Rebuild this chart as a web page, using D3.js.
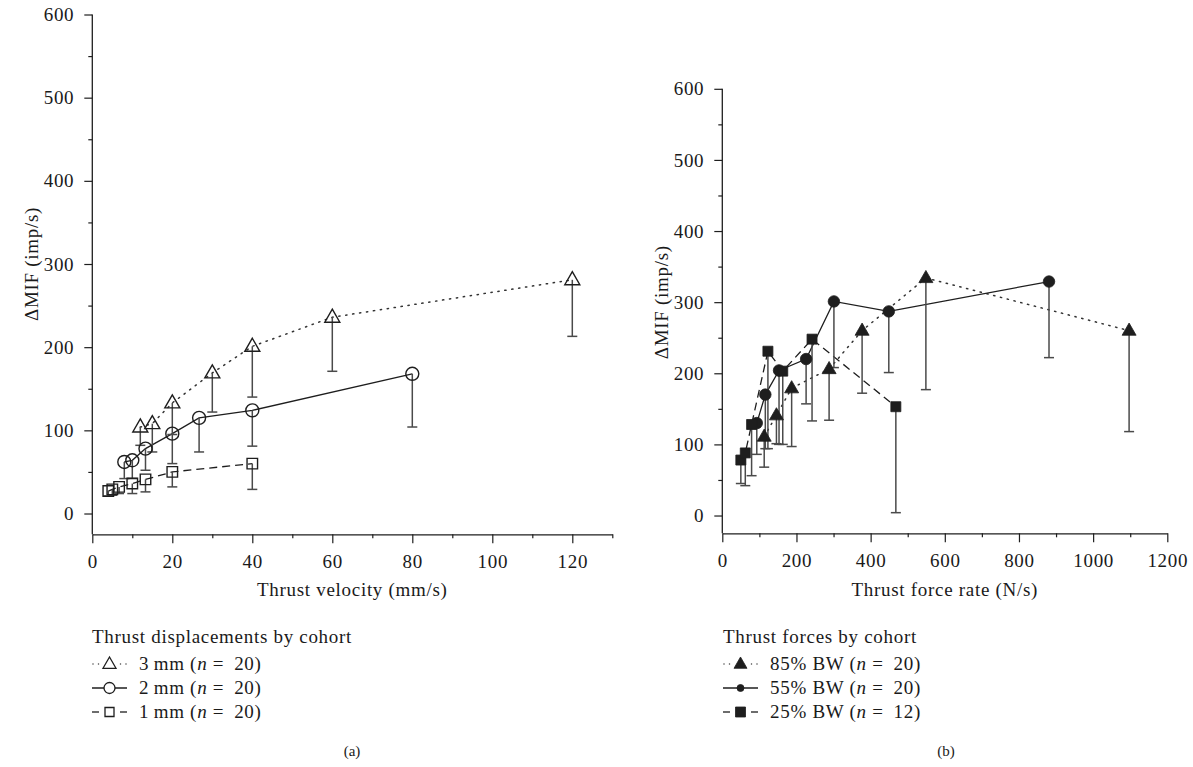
<!DOCTYPE html>
<html>
<head>
<meta charset="utf-8">
<script src="https://cdn.jsdelivr.net/npm/d3@7"></script>
<style>
  html, body { margin: 0; padding: 0; background: #fff; }
  svg { display: block; font-family: "Liberation Serif", "Times New Roman", serif; }
</style>
</head>
<body>
<svg id="chart" width="1193" height="767"></svg>
<script>
// Panel (a): ΔMIF versus thrust velocity, by displacement cohort
const velocity3mm = [12, 15, 20, 30, 40, 60, 120];
const mif3mm      = [104, 108, 133, 169, 201, 236, 281];
const sd3mm       = [22, 34, 38, 47, 61, 65, 68];

const velocity2mm = [8, 10, 13.3, 20, 26.7, 40, 80];
const mif2mm      = [62, 64, 78, 96, 115, 124, 168];
const sd2mm       = [20, 22, 26, 36, 41, 43, 64];

const velocity1mm = [4, 5, 6.7, 10, 13.3, 20, 40];
const mif1mm      = [27, 29, 32, 36, 41, 50, 60];
const sd1mm       = [6, 7, 8, 12, 15, 18, 31];

// Panel (b): ΔMIF versus thrust force rate, by force cohort
const rate85 = [113, 146, 187, 288, 377, 549, 1097];
const mif85  = [111, 141, 179, 206, 260, 334, 260];
const sd85   = [43, 40, 82, 72, 88, 157, 142];

const rate55 = [93, 116, 153, 226, 301, 449, 881];
const mif55  = [130, 170, 204, 220, 301, 287, 329];
const sd55   = [44, 76, 104, 63, 93, 86, 107];

const rate25 = [50, 62, 79, 123, 163, 242, 468];
const mif25  = [78, 88, 128, 231, 203, 248, 153];
const sd25   = [33, 46, 72, 137, 103, 115, 149];

// Axis tick values
const yTicks = [0, 100, 200, 300, 400, 500, 600];
const yMinor = [50, 150, 250, 350, 450, 550];
const xTicksA = [0, 20, 40, 60, 80, 100, 120];
const xMinorA = [10, 30, 50, 70, 90, 110, 130];
const xTicksB = [0, 200, 400, 600, 800, 1000, 1200];
const xMinorB = [100, 300, 500, 700, 900, 1100];

const yTitle = "ΔMIF (imp/s)";
const xTitleA = "Thrust velocity (mm/s)";
const xTitleB = "Thrust force rate (N/s)";
const legendTitleA = "Thrust displacements by cohort";
const legendTitleB = "Thrust forces by cohort";
const legendA = [["3\u2009mm (", "n", " = \u200920)"], ["2\u2009mm (", "n", " = \u200920)"], ["1\u2009mm (", "n", " = \u200920)"]];
const legendB = [["85% BW (", "n", " = \u200920)"], ["55% BW (", "n", " = \u200920)"], ["25% BW (", "n", " = \u200912)"]];

const zip = (xs, ys, es) => xs.map((x, i) => ({x, y: ys[i], e: es[i]}));

const svg = d3.select("#chart");
const INK = "#1e1e1e";
const BAR = "#4a4a4a";
const FONT = 19;
const SPACING = 0.7;

const dotted = "1.3,5.7";
const dashed = "8,5";

// marker path generators centred on (0,0)
function markerPath(shape, s) {
  if (shape === "tri") {
    const h = s * 0.87;
    return `M0,${-h * 0.62}L${s / 2},${h * 0.38}L${-s / 2},${h * 0.38}Z`;
  }
  if (shape === "sq") {
    const r = s / 2;
    return `M${-r},${-r}H${r}V${r}H${-r}Z`;
  }
  const r = s / 2;
  return `M${r},0A${r},${r} 0 1,1 ${-r},0A${r},${r} 0 1,1 ${r},0Z`;
}

function styleText(sel) {
  return sel.attr("font-size", FONT).attr("letter-spacing", SPACING).attr("fill", "#1a1a1a")
    .attr("font-family", "'Liberation Serif', 'Times New Roman', serif");
}

function drawPanel(cfg) {
  const g = svg.append("g");
  const x = d3.scaleLinear().domain(cfg.xDomain).range(cfg.xRange);
  const y = d3.scaleLinear().domain([-25, 600]).range(cfg.yRange);

  // y axis
  const yAxis = d3.axisLeft(y).tickValues(yTicks).tickSize(8).tickPadding(10).tickSizeOuter(0);
  const ya = g.append("g").attr("transform", `translate(${cfg.xRange[0]},0)`).call(yAxis);
  ya.select(".domain").attr("d", `M0,${y(600)}V${cfg.yRange[0]}`);
  g.append("g").attr("transform", `translate(${cfg.xRange[0]},0)`)
    .call(d3.axisLeft(y).tickValues(yMinor).tickSize(4).tickFormat("").tickSizeOuter(0))
    .select(".domain").remove();

  // x axis
  const xAxis = d3.axisBottom(x).tickValues(cfg.xTicks).tickFormat(d3.format("d"))
    .tickSize(9).tickPadding(11).tickSizeOuter(0);
  g.append("g").attr("transform", `translate(0,${cfg.yRange[0]})`).call(xAxis);
  g.append("g").attr("transform", `translate(0,${cfg.yRange[0]})`)
    .call(d3.axisBottom(x).tickValues(cfg.xMinor).tickSize(4).tickFormat("").tickSizeOuter(0))
    .select(".domain").remove();

  g.selectAll(".domain").attr("stroke", INK).attr("stroke-width", 1.3);
  g.selectAll(".tick line").attr("stroke", INK).attr("stroke-width", 1.2);
  styleText(g.selectAll(".tick text"));

  // axis titles
  styleText(g.append("text"))
    .attr("transform", `translate(${cfg.yTitleX},${(y(0) + y(600)) / 2}) rotate(-90)`)
    .attr("text-anchor", "middle").attr("dy", "0.35em")
    .text(yTitle);
  styleText(g.append("text"))
    .attr("x", (cfg.xRange[0] + cfg.xRange[1]) / 2).attr("y", 596)
    .attr("text-anchor", "middle")
    .text(cfg.xTitle);

  const line = d3.line().x(d => x(d.x)).y(d => y(d.y));

  // connecting lines
  cfg.series.forEach(s => {
    g.append("path").datum(s.data)
      .attr("d", line).attr("fill", "none")
      .attr("stroke", s.dash === dotted ? "#333" : INK)
      .attr("stroke-width", s.dash === dotted ? 1.5 : 1.3)
      .attr("stroke-linecap", s.dash === dotted ? "round" : "butt")
      .attr("stroke-dasharray", s.dash);
  });

  // downward error bars
  cfg.series.forEach(s => {
    const eb = g.append("g").attr("stroke", BAR).attr("stroke-width", 1.5);
    eb.selectAll("line.v").data(s.data).join("line")
      .attr("x1", d => x(d.x)).attr("x2", d => x(d.x))
      .attr("y1", d => y(d.y)).attr("y2", d => y(d.y - d.e));
    eb.selectAll("line.c").data(s.data).join("line")
      .attr("x1", d => x(d.x) - 5).attr("x2", d => x(d.x) + 5)
      .attr("y1", d => y(d.y - d.e)).attr("y2", d => y(d.y - d.e));
  });

  // markers
  cfg.series.forEach(s => {
    g.append("g").selectAll("path").data(s.data).join("path")
      .attr("transform", d => `translate(${x(d.x)},${y(d.y)})`)
      .attr("d", markerPath(s.shape, s.size))
      .attr("fill", cfg.filled ? INK : "none")
      .attr("stroke", INK).attr("stroke-width", cfg.filled ? 0.8 : 1.4);
  });

  // legend
  const lg = g.append("g");
  styleText(lg.append("text")).attr("x", cfg.legendX).attr("y", 643).text(cfg.legendTitle);
  cfg.series.forEach((s, i) => {
    const by = 670 + i * 24;
    const cy = by - 6;
    const x0 = cfg.legendX;
    const sym = lg.append("g").attr("stroke", INK);
    if (s.dash === dotted) {
      sym.selectAll("line").data([1, 6.5, 28.5, 34]).join("line")
        .attr("x1", d => x0 + d).attr("x2", d => x0 + d).attr("y1", cy).attr("y2", cy)
        .attr("stroke", "#444").attr("stroke-width", 1.5).attr("stroke-linecap", "round");
    } else if (s.dash) {
      sym.selectAll("line").data([[0, 7], [28, 35]]).join("line")
        .attr("x1", d => x0 + d[0]).attr("x2", d => x0 + d[1]).attr("y1", cy).attr("y2", cy)
        .attr("stroke-width", 1.3);
    } else {
      sym.append("line").attr("x1", x0).attr("x2", x0 + 35).attr("y1", cy).attr("y2", cy)
        .attr("stroke-width", 1.3);
    }
    lg.append("path").attr("transform", `translate(${x0 + 17.5},${cy})`)
      .attr("d", markerPath(s.shape, s.legendSize))
      .attr("fill", cfg.filled ? INK : "#fff")
      .attr("stroke", INK).attr("stroke-width", cfg.filled ? 0.8 : 1.3);
    const t = styleText(lg.append("text")).attr("x", x0 + 47).attr("y", by);
    t.append("tspan").text(cfg.legendItems[i][0]);
    t.append("tspan").attr("font-style", "italic").text(cfg.legendItems[i][1]);
    t.append("tspan").text(cfg.legendItems[i][2]);
  });

  // panel caption
  g.append("text").attr("x", cfg.captionX).attr("y", 756)
    .attr("text-anchor", "middle").attr("font-size", 15).attr("fill", "#1a1a1a")
    .text(cfg.caption);
}

drawPanel({
  xDomain: [0, 130], xRange: [92.3, 612.3], yRange: [534.3, 14.5],
  xTicks: xTicksA, xMinor: xMinorA, xTitle: xTitleA, yTitleX: 31,
  legendX: 92, legendTitle: legendTitleA, legendItems: legendA, caption: "(a)", captionX: 352,
  filled: false,
  series: [
    {data: zip(velocity3mm, mif3mm, sd3mm), shape: "tri", size: 15, legendSize: 13, dash: dotted},
    {data: zip(velocity2mm, mif2mm, sd2mm), shape: "circ", size: 13, legendSize: 11, dash: null},
    {data: zip(velocity1mm, mif1mm, sd1mm), shape: "sq", size: 10.5, legendSize: 9, dash: dashed}
  ]
});

drawPanel({
  xDomain: [0, 1200], xRange: [722.3, 1167.3], yRange: [533.3, 88.8],
  xTicks: xTicksB, xMinor: xMinorB, xTitle: xTitleB, yTitleX: 661,
  legendX: 723, legendTitle: legendTitleB, legendItems: legendB, caption: "(b)", captionX: 946,
  filled: true,
  series: [
    {data: zip(rate85, mif85, sd85), shape: "tri", size: 14, legendSize: 13, dash: dotted},
    {data: zip(rate55, mif55, sd55), shape: "circ", size: 11.5, legendSize: 7, dash: null},
    {data: zip(rate25, mif25, sd25), shape: "sq", size: 10, legendSize: 10, dash: dashed}
  ]
});
</script>
</body>
</html>
